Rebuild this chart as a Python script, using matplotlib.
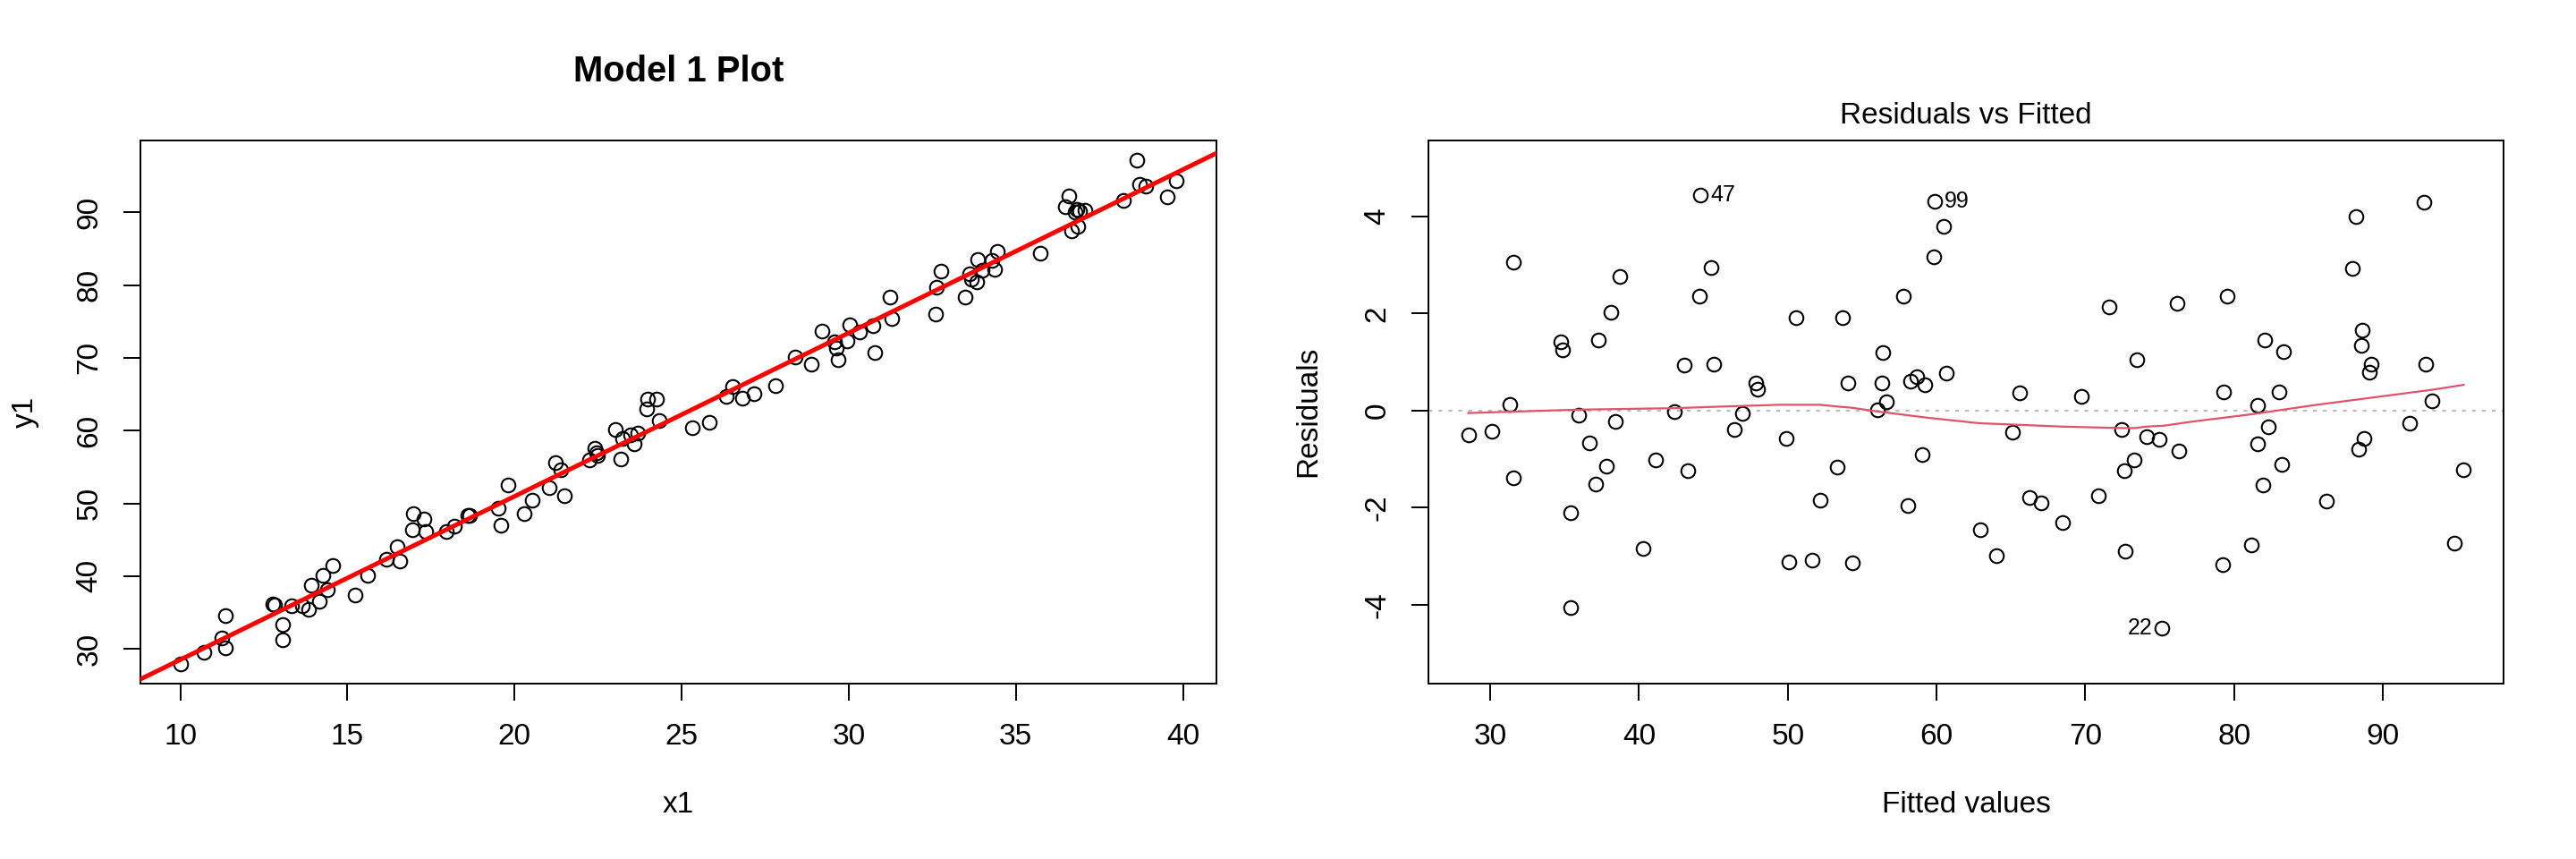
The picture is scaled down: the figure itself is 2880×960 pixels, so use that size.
import matplotlib
matplotlib.use("Agg")
import matplotlib.pyplot as plt
import numpy as np

plt.rcParams['font.family'] = ['Liberation Sans', 'DejaVu Sans']
plt.rcParams['axes.unicode_minus'] = False

# ---------------- data: Model 1 scatter ----------------
x1 = [10.0, 10.72, 11.24, 11.35, 11.35, 12.77, 12.81, 13.07, 13.07, 13.32,
      13.66, 13.83, 13.91, 14.15, 14.28, 14.41, 14.56, 15.23, 15.61, 16.17,
      16.48, 16.58, 16.93, 16.98, 17.30, 17.35, 17.96, 18.21, 18.59, 18.65,
      19.52, 19.59, 19.82, 20.30, 20.53, 21.05, 21.22, 21.39, 21.50, 22.25,
      22.39, 22.45, 22.47, 23.03, 23.18, 23.22, 23.46, 23.58, 23.70, 23.95,
      23.99, 24.26, 24.32, 25.33, 25.82,
      26.33, 26.53, 26.83, 27.17, 27.81, 28.39, 28.87, 29.21, 29.58, 29.64,
      29.69, 29.96, 30.04, 30.33, 30.72, 30.78, 31.24, 31.30, 32.60, 32.62,
      32.75, 33.47, 33.62, 33.66, 33.83, 33.87, 33.98, 34.29, 34.36, 34.44,
      35.72, 36.49, 36.58, 36.68, 36.77, 36.83, 36.86, 36.91, 37.06, 38.21,
      38.63, 38.69, 38.88, 39.52, 39.81]
y1 = [28.0, 29.6, 31.5, 34.6, 30.2, 36.2, 36.1, 33.3, 31.3, 35.9,
      35.9, 35.5, 38.7, 36.6, 40.1, 38.2, 41.5, 37.4, 40.1, 42.3,
      44.1, 42.1, 46.4, 48.6, 47.8, 46.1, 46.1, 46.9, 48.4, 48.4,
      49.3, 47.0, 52.5, 48.6, 50.4, 52.1, 55.6, 54.6, 51.1, 56.0,
      57.6, 56.9, 56.6, 60.1, 56.1, 58.9, 59.4, 58.2, 59.7, 63.0,
      64.3, 64.3, 61.4, 60.4, 61.1,
      64.7, 66.0, 64.5, 65.1, 66.2, 70.1, 69.1, 73.7, 72.2, 71.4,
      69.7, 72.3, 74.5, 73.6, 74.4, 70.7, 78.4, 75.4, 76.0, 79.7,
      81.9, 78.4, 81.5, 80.8, 80.4, 83.5, 82.0, 83.4, 82.1, 84.6,
      84.4, 90.8, 92.2, 87.5, 90.0, 90.4, 88.1, 90.1, 90.3, 91.6,
      97.1, 93.9, 93.6, 92.1, 94.3]
fit_intercept = 6.07
fit_slope = 2.245

# ---------------- data: Residuals vs Fitted ----------------
fitted = [28.52, 30.12, 31.30, 31.56, 31.58, 34.77, 34.89, 35.41, 35.41, 35.95,
          36.69, 37.07, 37.27, 37.82, 38.10, 38.38, 38.74, 40.26, 41.12, 42.36,
          43.05, 43.31, 44.05, 44.15, 44.87, 45.03, 46.39, 46.95, 47.84, 47.96,
          49.90, 50.06, 50.56,
          51.62, 52.16, 53.33, 53.69, 54.05, 54.33, 56.01, 56.33, 56.39, 56.61,
          57.78, 58.10, 58.24, 58.70, 59.02, 59.22, 59.84, 59.90, 60.48, 60.64,
          62.93, 64.05, 65.11, 65.61, 66.25, 67.03, 68.50, 69.74, 70.86, 71.60,
          72.47, 72.63, 72.71, 73.27, 73.49, 74.11, 74.97, 75.15, 76.19, 76.31,
          79.30, 79.22, 79.54, 81.16, 81.56, 81.56, 81.96, 82.04, 82.28, 83.02,
          83.19, 83.35, 86.23, 87.94, 88.18, 88.38, 88.58, 88.62, 88.76, 89.08,
          89.24, 91.80, 92.79, 92.91, 93.33, 94.82, 95.44]
resid = [-0.50, -0.42, 0.13, 3.06, -1.39, 1.41, 1.25, -2.11, -4.06, -0.10,
         -0.66, -1.52, 1.45, -1.15, 2.03, -0.23, 2.76, -2.83, -1.01, -0.03,
         0.93, -1.24, 2.35, 4.43, 2.95, 0.96, -0.39, -0.05, 0.57, 0.44,
         -0.57, -3.12, 1.92,
         -3.07, -1.84, -1.17, 1.92, 0.56, -3.14, 0.02, 0.57, 1.19, 0.18,
         2.36, -1.95, 0.61, 0.70, -0.91, 0.53, 3.17, 4.30, 3.79, 0.77,
         -2.46, -2.98, -0.45, 0.36, -1.78, -1.90, -2.31, 0.29, -1.76, 2.14,
         -0.38, -1.23, -2.89, -1.01, 1.04, -0.53, -0.60, -4.48, 2.20, -0.83,
         0.39, -3.17, 2.35, -2.76, 0.10, -0.68, -1.54, 1.45, -0.33, 0.38,
         -1.11, 1.21, -1.87, 2.92, 3.99, -0.80, 1.35, 1.66, -0.58, 0.79,
         0.95, -0.26, 4.29, 0.95, 0.20, -2.72, -1.22]

smooth_fitted = [28.52, 35.95, 42.40, 45.25, 49.46, 52.16, 53.47, 54.27, 56.07, 59.48,
                 62.89, 68.50, 72.50, 73.30, 74.10, 75.31, 77.11, 81.32, 85.33, 89.34,
                 93.35, 95.44]
smooth_resid = [-0.05, 0.02, 0.05, 0.08, 0.12, 0.12, 0.08, 0.06, -0.02, -0.15,
                -0.26, -0.33, -0.36, -0.36, -0.33, -0.31, -0.23, -0.07, 0.11, 0.27,
                0.43, 0.53]

id_labels = ["47", "99", "22"]
id_fitted = [44.15, 59.90, 75.15]
id_resid = [4.43, 4.30, -4.48]
id_side = ["right", "right", "left"]

left_xticks = [10, 15, 20, 25, 30, 35, 40]
left_yticks = [30, 40, 50, 60, 70, 80, 90]
right_xticks = [30, 40, 50, 60, 70, 80, 90]
right_yticks = [-4, -2, 0, 2, 4]

# ---------------- figure ----------------
W, H = 2880, 960
fig = plt.figure(figsize=(14.4, 4.8), dpi=200)

def frac_rect(x0, x1, ytop, ybot):
    return [x0 / W, 1 - ybot / H, (x1 - x0) / W, (ybot - ytop) / H]

axL = fig.add_axes(frac_rect(157, 1360, 157, 764))
axR = fig.add_axes(frac_rect(1597, 2799, 157, 764))

def style(ax):
    for s in ax.spines.values():
        s.set_linewidth(0.7)
        s.set_color('black')
    ax.tick_params(axis='both', which='major', length=7, width=0.7,
                   labelsize=12, colors='black', direction='out')
    ax.tick_params(axis='x', pad=9)
    ax.tick_params(axis='y', pad=8)
    for lab in ax.get_yticklabels():
        lab.set_rotation(90)
        lab.set_va('center')

mk = dict(marker='o', linestyle='none', markersize=5.6, markerfacecolor='none',
          markeredgecolor='black', markeredgewidth=0.75)

# Left panel
axL.plot(x1, y1, **mk, zorder=3)
xr = (min(x1), max(x1)); yr = (min(y1), max(y1))
dx = (xr[1] - xr[0]) * 0.04; dy = (yr[1] - yr[0]) * 0.04
axL.set_xlim(xr[0] - dx, xr[1] + dx)
axL.set_ylim(yr[0] - dy, yr[1] + dy)
xl = np.array(axL.get_xlim())
axL.plot(xl, fit_intercept + fit_slope * xl, color='#FF0000', lw=1.8, zorder=4)
axL.set_xticks(left_xticks)
axL.set_yticks(left_yticks)
style(axL)

# Right panel
axR.axhline(0, color='#BEBEBE', lw=0.8, linestyle=(0, (2, 3)), zorder=1)
axR.plot(fitted, resid, **mk, zorder=3)
axR.plot(smooth_fitted, smooth_resid, color='#DF536B', lw=0.8, zorder=4)
fr = (min(fitted), max(fitted))
dfx = (fr[1] - fr[0]) * 0.04
axR.set_xlim(fr[0] - dfx, fr[1] + dfx)
axR.set_ylim(-5.62, 5.56)
axR.set_xticks(right_xticks)
axR.set_yticks(right_yticks)
style(axR)
for lab, fx, ry, side in zip(id_labels, id_fitted, id_resid, id_side):
    off = 3.8 if side == "right" else -3.8
    axR.annotate(lab, (fx, ry), xytext=(off, 0), textcoords='offset points',
                 ha='left' if side == "right" else 'right', va='center', fontsize=9)

# Titles and axis labels
fig.text((157 + 1360) / 2 / W, 1 - 80 / H, "Model 1 Plot", ha='center', va='center',
         fontsize=14.4, fontweight='bold')
fig.text((1597 + 2799) / 2 / W, 1 - 130 / H, "Residuals vs Fitted", ha='center',
         va='center', fontsize=12)
fig.text((157 + 1360) / 2 / W, 1 - 900 / H, "x1", ha='center', va='center', fontsize=12)
fig.text(28 / W, 1 - 460 / H, "y1", ha='center', va='center', fontsize=12, rotation=90)
fig.text((1597 + 2799) / 2 / W, 1 - 900 / H, "Fitted values", ha='center', va='center', fontsize=12)
fig.text(1463 / W, 1 - 460 / H, "Residuals", ha='center', va='center', fontsize=12, rotation=90)

fig.savefig("out.png", dpi=200, facecolor='white')
